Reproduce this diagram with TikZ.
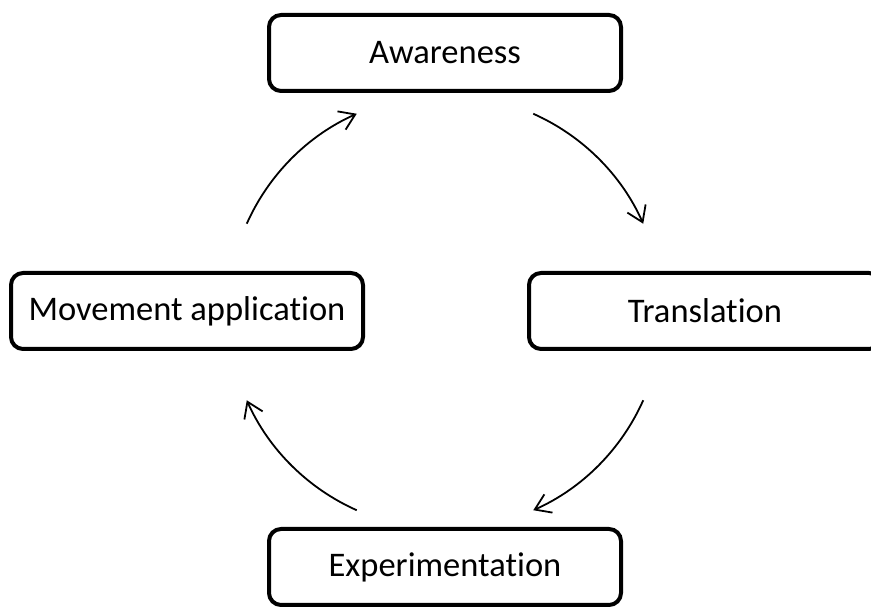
\documentclass[tikz,border=0pt]{standalone}
\usepackage{fontspec}
\setmainfont[Ligatures=NoCommon]{Carlito}
\usetikzlibrary{arrows.meta,calc}
\begin{document}
\begin{tikzpicture}[x=1pt,y=1pt,
  stage/.style={draw=black,line width=4pt,rounded corners=12pt,fill=white,
    minimum width=352pt,minimum height=76pt,inner sep=0pt,
    font=\fontsize{34.5}{41}\selectfont},
  cyc/.style={line width=1.8pt,-{Straight Barb[length=15pt,width=20pt]}}]
\clip (0,0) rectangle (871,607);
\fill[white] (0,0) rectangle (871,607);
\coordinate (c) at (445,295);
\node[stage] (aw) at (445,554) {Awareness};
\node[stage] (tr) at (705,296) {Translation};
\node[stage] (ex) at (445,40) {Experimentation};
\node[stage] (mv) at (187,296) {Movement application};
\coordinate (s1) at ($(c)+(66:217)$);
\coordinate (s2) at ($(c)+(-24:217)$);
\coordinate (s3) at ($(c)+(-114:217)$);
\coordinate (s4) at ($(c)+(156:217)$);
\draw[cyc] (s1) arc[start angle=66,end angle=24,radius=217pt];
\draw[cyc] (s2) arc[start angle=-24,end angle=-66,radius=217pt];
\draw[cyc] (s3) arc[start angle=-114,end angle=-156,radius=217pt];
\draw[cyc] (s4) arc[start angle=156,end angle=114,radius=217pt];
\end{tikzpicture}
\end{document}
